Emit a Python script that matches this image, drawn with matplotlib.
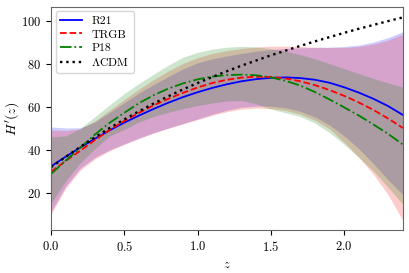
import matplotlib
matplotlib.use('Agg')
import matplotlib.pyplot as plt

plt.rcParams['font.family'] = 'serif'
plt.rcParams['font.serif'] = ['cmr10']
plt.rcParams['mathtext.fontset'] = 'cm'
plt.rcParams['axes.formatter.use_mathtext'] = True
plt.rcParams['font.size'] = 9

# redshift grid
z = [0.0, 0.1, 0.2, 0.3, 0.4, 0.5, 0.6, 0.7, 0.8, 0.9, 1.0, 1.1, 1.2,
     1.3, 1.4, 1.5, 1.6, 1.7, 1.8, 1.9, 2.0, 2.1, 2.2, 2.3, 2.4]

# R21
r21 = [32.3, 36.8, 41.1, 45.2, 49.1, 52.7, 56.0, 59.1, 62.0, 64.6, 66.9, 68.9, 70.6,
       72.0, 73.0, 73.6, 73.8, 73.5, 72.7, 71.3, 69.2, 66.7, 63.8, 60.4, 56.3]
r21_hi = [50.7, 50.2, 50.3, 53.0, 57.5, 62.0, 66.5, 70.5, 74.2, 77.8, 80.6, 82.5, 83.8,
          85.0, 86.0, 86.8, 87.3, 87.6, 87.8, 87.9, 88.2, 88.9, 90.3, 92.4, 95.1]
r21_lo = [11.1, 23.0, 31.5, 36.5, 40.0, 42.8, 45.5, 48.0, 50.2, 52.3, 54.4, 56.6, 58.5,
          59.9, 60.4, 60.4, 59.6, 58.0, 55.4, 51.6, 46.5, 40.5, 33.5, 26.0, 19.0]

# TRGB
trgb = [29.8, 34.8, 39.6, 44.6, 49.3, 53.5, 57.3, 60.8, 63.8, 66.6, 69.1, 71.2, 72.7,
        73.7, 74.1, 74.0, 73.3, 72.0, 70.2, 67.9, 65.2, 62.1, 58.6, 54.6, 50.2]
trgb_hi = [49.2, 49.0, 49.8, 53.5, 58.5, 63.5, 68.3, 72.8, 76.8, 80.3, 83.0, 85.0, 86.3,
           87.3, 88.0, 88.4, 88.4, 88.2, 87.9, 87.8, 87.8, 88.2, 89.4, 91.2, 94.0]
trgb_lo = [10.0, 22.0, 30.5, 35.8, 39.6, 42.5, 45.3, 47.8, 50.0, 52.1, 54.1, 56.1, 57.8,
           59.0, 59.5, 59.3, 58.4, 56.6, 53.8, 49.8, 43.5, 36.5, 28.5, 19.0, 7.0]

# P18
p18 = [28.7, 35.0, 41.0, 47.2, 52.6, 57.3, 61.8, 65.5, 68.6, 71.0, 72.9, 74.2, 74.9,
       75.1, 74.8, 73.8, 72.2, 70.0, 67.0, 63.5, 59.8, 56.0, 51.8, 47.4, 42.5]
p18_hi = [46.0, 46.5, 50.0, 55.5, 61.0, 66.3, 71.0, 75.3, 79.5, 83.2, 85.5, 87.0, 87.9,
          88.3, 88.0, 87.2, 86.0, 84.4, 82.5, 80.2, 77.9, 75.6, 73.3, 71.2, 69.3]
p18_lo = [15.0, 25.5, 34.0, 40.5, 46.5, 49.5, 53.0, 55.6, 57.5, 59.2, 60.7, 61.9, 62.8,
          63.0, 61.5, 59.0, 57.3, 55.5, 52.5, 48.0, 42.5, 36.5, 30.0, 22.5, 14.5]

# LCDM
lcdm = [31.9, 36.7, 41.4, 45.9, 50.2, 54.2, 58.0, 61.6, 65.0, 68.2, 71.2, 74.0, 76.7,
        79.3, 81.7, 84.1, 86.3, 88.5, 90.6, 92.6, 94.6, 96.5, 98.3, 100.1, 101.8]

fig = plt.figure(figsize=(4.09, 2.73), dpi=100)
ax = fig.add_axes([0.1247, 0.1575, 0.8603, 0.818])

ax.fill_between(z, r21_lo, r21_hi, color='b', alpha=0.2, lw=0)
ax.fill_between(z, trgb_lo, trgb_hi, color='r', alpha=0.2, lw=0)
ax.fill_between(z, p18_lo, p18_hi, color='g', alpha=0.2, lw=0)

ax.plot(z, r21, 'b-', lw=1.3, label='R21')
ax.plot(z, trgb, 'r--', lw=1.3, label='TRGB')
ax.plot(z, p18, 'g-.', lw=1.3, label='P18')
ax.plot(z, lcdm, 'k:', lw=1.7, label=r'$\Lambda$CDM')

ax.set_xlim(0, 2.4)
ax.set_ylim(2.6, 106.8)
ax.set_xticks([0, 0.5, 1.0, 1.5, 2.0])
ax.set_yticks([20, 40, 60, 80, 100])
ax.set_xlabel('$z$')
ax.set_ylabel("$H'(z)$", fontsize=10)
ax.yaxis.set_label_coords(-0.085, 0.5)
for s in ax.spines.values():
    s.set_color('0.4')
ax.legend(loc='upper left', labelspacing=0.25, handlelength=1.8,
          borderaxespad=0.4, fontsize=8.5)

fig.savefig('out.png', dpi=100)
